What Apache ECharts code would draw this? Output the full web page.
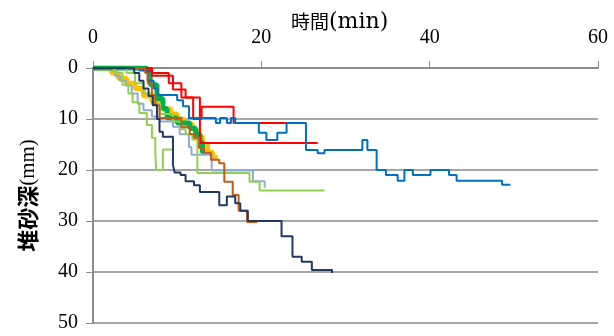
<!DOCTYPE html>
<html><head><meta charset="utf-8">
<script src="https://cdn.jsdelivr.net/npm/echarts@6/dist/echarts.min.js"></script>
<style>html,body{margin:0;padding:0;background:#fff}#c{width:614px;height:336px}</style>
</head><body><div id="c"></div>
<script>
const xTicks = [0, 20, 40, 60];
const yTicks = [0, 10, 20, 30, 40, 50];
const xTitleMain = '時間';
const xTitleUnit = '(min)';
const yTitleMain = '堆砂深';
const yTitleUnit = '(mm)';

// [time(min), depth(mm)] — depth changes to value at that time
const orangeRun = [[0,0],[2.2,1],[3,2],[4,3],[5,4],[6,5.5],[7,6.5],[8.3,8],[9.2,9],[10,10],[10.8,11],[11.8,12],[12.3,13.5],[13,15],[13.6,16.5],[14.2,17.5],[14.8,17.5]];
const greenRun = [[0,0],[6.4,0.5],[6.8,3.3],[7.6,6],[8.3,8],[8.8,9.8],[10,10.8],[11.5,11.8],[12.2,13],[12.7,14.5],[13,16.5],[13.2,16.5]];
const lightBlueRun = [[0,0],[2.6,1.5],[3.2,2.5],[3.9,3.5],[4.6,5],[5.3,7],[6,8.3],[7,9.5],[8,10.5],[9.5,11.5],[10.3,13],[11.4,15.5],[11.7,17],[14.1,18.5],[14.1,20.1],[19,22.2],[20.4,23.5]];
const lightGreenRunA = [[0,0],[2.5,1],[3.5,3.3],[4.2,5],[4.7,6.7],[5.5,8.8],[6.4,11.2],[7,13.7],[7.4,16.5],[7.5,20],[8.3,16],[9.5,16]];
const lightGreenRunB = [[0,0],[4,1],[5,3],[6,5],[7,7],[8,9],[9.5,10.5],[10.5,12],[11,13],[11.8,14],[12.4,20.6],[18.6,22.3],[19.8,24],[27.5,24]];
const redRunA = [[0,0],[6,0.5],[7,1.5],[9.5,4.2],[11,5.8],[12.7,14.7],[26.7,14.7]];
const redRunB = [[0,0],[7,1],[9,3],[10.5,5.8],[11.9,10],[12.9,7.6],[16.7,10.8],[24.9,10.8]];
const blueRun = [[0,0],[5.5,0.5],[6.5,2.5],[7.2,4],[7.7,5.3],[10,6.3],[10.7,7.5],[11.4,9.8],[14.6,10.8],[15.1,9.8],[15.9,10.8],[16.4,9.8],[16.9,10.8],[19.7,12.7],[20.6,14.1],[21.9,12.7],[23,10.8],[25.3,16.1],[26.7,16.7],[27.5,16.1],[32,14.1],[32.6,16.1],[33.7,20],[34.8,21],[36.2,22.1],[37,20],[38,21],[40.1,20],[42.3,21],[43.2,22.1],[48.6,22.9],[49.6,22.9]];
const brownRun = [[0,0],[6.2,1],[6.5,3],[7,5.3],[7.4,7.3],[7.9,9.8],[10.5,11.6],[11.5,13],[12,13.7],[12.6,15.7],[13.2,16.6],[14,18],[15,18.7],[15.6,22.3],[16.6,24.9],[17.3,28],[18.3,30.2],[19.5,30.2]];
const navyRun = [[0,0],[4.9,1],[5.5,2.5],[6,4],[6.6,5.5],[7.1,7.3],[7.6,10],[7.9,12.5],[8.3,13.5],[9.5,19],[9.7,20.5],[10.4,21],[11,22.2],[12,23],[12.7,24.3],[15,26.9],[15.9,25.2],[16.9,26.5],[17.5,28],[18.4,30],[22.4,33],[23.7,37],[24.8,38],[26,39.6],[28.4,40.2]];

const runs = [
  {name:'orange', data:orangeRun, color:'#FFC000', w:5},
  {name:'green', data:greenRun, color:'#00B050', w:5},
  {name:'lightblue', data:lightBlueRun, color:'#8EA9DB', w:2},
  {name:'lightgreenA', data:lightGreenRunA, color:'#92D050', w:2},
  {name:'lightgreenB', data:lightGreenRunB, color:'#92D050', w:2},
  {name:'redA', data:redRunA, color:'#FF0000', w:2},
  {name:'redB', data:redRunB, color:'#FF0000', w:2},
  {name:'blue', data:blueRun, color:'#0070C0', w:2},
  {name:'brown', data:brownRun, color:'#C55A11', w:2},
  {name:'navy', data:navyRun, color:'#203864', w:2}
];

const serif = '"Liberation Serif", serif';
const cjk = '"Noto Sans CJK JP", sans-serif';
const chart = echarts.init(document.getElementById('c'));
chart.setOption({
  animation:false,
  title:{
    text:'{c|' + xTitleMain + '}{u|' + xTitleUnit + '}', left:291, top:11, padding:0,
    textStyle:{fontWeight:'normal', rich:{
      c:{fontFamily:cjk, fontSize:19, fontWeight:'normal', color:'#000'},
      u:{fontFamily:'"DejaVu Serif", serif', fontSize:22, fontWeight:'normal', color:'#000'}
    }}
  },
  grid:{left:93, right:16, top:68, bottom:13, containLabel:false},
  xAxis:{
    type:'value', position:'top', min:xTicks[0], max:xTicks[xTicks.length-1], interval:20,
    axisLine:{show:true, lineStyle:{color:'#8C8C8C', width:2}},
    axisTick:{show:true, inside:false, length:7, lineStyle:{color:'#8C8C8C', width:1}},
    axisLabel:{margin:20, fontFamily:serif, fontSize:20, color:'#000'},
    splitLine:{show:false}
  },
  yAxis:{
    type:'value', inverse:true, min:yTicks[0], max:yTicks[yTicks.length-1], interval:10,
    name:'{c|' + yTitleMain + '}{u|' + yTitleUnit + '}', nameLocation:'middle', nameGap:54, nameRotate:90,
    nameTextStyle:{color:'#000', rich:{
      c:{fontFamily:cjk, fontSize:22, fontWeight:'bold', color:'#000'},
      u:{fontFamily:serif, fontSize:21, color:'#000'}
    }},
    axisLine:{show:true, lineStyle:{color:'#8C8C8C', width:2}},
    axisTick:{show:true, inside:false, length:7, lineStyle:{color:'#8C8C8C', width:1}},
    axisLabel:{margin:15, fontFamily:serif, fontSize:20, color:'#000'},
    splitLine:{show:true, lineStyle:{color:'#A6A6A6', width:2}}
  },
  series: runs.map(r => ({
    type:'line', name:r.name, data:r.data, step:'end', showSymbol:false, symbol:'none',
    lineStyle:{color:r.color, width:r.w}, itemStyle:{color:r.color}
  }))
});
</script></body></html>
